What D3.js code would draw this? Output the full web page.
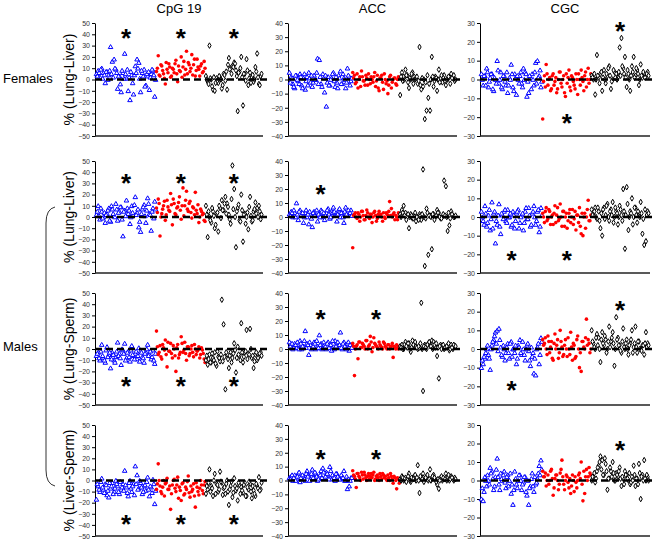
<!DOCTYPE html>
<html><head><meta charset="utf-8">
<script src="https://cdn.jsdelivr.net/npm/d3@7"></script>
<style>
html,body{margin:0;padding:0;background:#fff;}
svg{display:block;font-family:"Liberation Sans",Arial,sans-serif;}
</style></head>
<body><svg id="chart" width="661" height="542"></svg>
<script>
// ---------- labels ----------
const colTitles = ["CpG 19", "ACC", "CGC"];
const rowGroupLabels = ["Females", "Males"];
const rowAxisLabels = ["% (Lung-Liver)", "% (Lung-Liver)", "% (Lung-Sperm)", "% (Liver-Sperm)"];
const colDomains = [[-50, 50], [-40, 40], [-30, 30]];
const colTicks = [
  [-50, -40, -30, -20, -10, 0, 10, 20, 30, 40, 50],
  [-40, -30, -20, -10, 0, 10, 20, 30, 40],
  [-30, -20, -10, 0, 10, 20, 30]
];

// ---------- Row 1: Females, Lung-Liver ----------
const R1C1_blue = [5, 8, 2, 10, 6, -3, 7, 4, 29, 16, 18, 9, -8, 3, -11, 6, 23, 1, -10, -18, 4, -13, 12, 18, 15, -11, 6, 9, -5, 3, -9, 5, 8, -15];
const R1C1_blue2 = [3, 6, 9, 1, 4, 7, 0, 8, 5, 2, 10, 6, 3, -4, 8, 1, 5, 9, 2, 7, -3, 4, 6, 10, 1, 8, 3, -6, 5, 7, 2, 9, 4, 0];
const R1C1_red = [7, 21, 3, 12, 5, -4, 9, 14, 2, 10, 6, 17, -2, 8, 20, 11, 4, 25, 15, 7, 22, 13, 3, 18, 9, 12, 6, 16];
const R1C1_red2 = [10, 4, 13, 8, 1, 15, 6, 11, 3, 9, 14, 5, 12, 7, 2, 16, 9, 5, 13, 10, 4, 18, 8, 11, 3, 14, 7, 10];
const R1C1_black = [3, -2, 30, 0, -9, -10, 1, -3, 2, -8, 5, -1, -9, 19, 10, 12, 15, 8, -28, 7, 20, -23, 5, 18, -5, 6, 2, -2, 11, 23, -4, 3];
const R1C1_black2 = [0, -4, 1, -6, 2, -3, -1, 3, 0, -5, 4, 7, 13, 9, 5, 11, 14, 3, 6, 10, 2, 5, -1, 8, 1, -3, 4, 0, 7, 2, -5, 5];
const R1C2_blue = [5, 2, -3, -6, 3, -1, 4, -4, 1, -7, 2, 5, -2, -5, 3, 0, 15, 14, -3, 4, -9, -19, 2, -4, 1, 5, -5, -2, 3, 6, -3, 1, -6, 8, 2, -1];
const R1C2_blue2 = [-2, 1, -5, 3, 0, -3, 2, -6, 4, -1, -4, 1, 3, -2, 0, 5, -3, 2, -5, 1, 3, -2, -4, 0, 4, -1, 2, -6, 1, -3, 4, 0, -2, 3, -4, 1];
const R1C2_red = [5, 3, -2, -6, 2, 6, -1, -4, 1, 4, -3, 0, 2, -5, 3, -8, 1, -2, 4, -3, -10, 2, -6, 0, 1, -4, 2];
const R1C2_red2 = [1, -3, 4, 0, -5, 2, -1, 3, -4, 0, 2, -2, 5, -1, -6, 1, 3, -7, 0, -1, -4, 3, -2, 1, -3, 0, 1];
const R1C2_black = [-11, 5, 2, 7, 3, -6, 0, 5, 2, 1, -3, 23, -7, -5, -28, -22, -13, -22, 16, -5, 2, -8, 7, 1, -2, 3, -4, 0, 2, 4, 1, -1];
const R1C2_black2 = [2, -1, 0, 3, -2, 1, 4, -3, 0, 2, -1, -4, 1, 0, -2, 3, -3, 0, 2, -1, 1, 0, -2, 3, 1, -1, 0, 2, -3, 1, 3, 0];
const R1C3_blue = [3, -3, 2, 6, -4, 1, 3, -6, 0, 10, -2, 4, -5, 2, -3, -7, 1, 8, -4, 3, -8, 0, 2, -2, 6, 4, -9, -7, 1, 3, -3, 9, 10, 2, -4];
const R1C3_blue2 = [0, 2, -3, 4, -1, 3, -5, 1, -2, 5, 0, -4, 2, -1, 4, -3, 0, 3, -6, 1, 2, -2, 4, -4, 0, 3, -1, 2, -5, 0, 4, -2, 1, 5, -1];
const R1C3_red = [-21, 2, 8, -3, 1, -5, 3, -1, -7, 0, 4, -4, 2, -9, -2, 5, -6, 1, -3, 3, -8, 0, 5, -1, 2, -4, 6, 0];
const R1C3_red2 = [-1, -4, 3, 0, -6, 2, -3, 1, -5, 4, -2, 0, -7, 3, 1, -4, 2, -1, -5, 0, 3, -3, 1, -6, 4, 0, -2, 3];
const R1C3_black = [2, 0, -8, 13, 1, 3, -6, 5, -2, 2, 7, -5, 0, 4, 3, 1, 17, 22, 6, 12, -4, 3, -6, 7, 12, 2, 5, -3, 8, 1, 3, 2, 4];
const R1C3_black2 = [1, 3, 0, 2, -2, 4, 1, 0, 3, 6, 2, -1, 5, 1, 0, 4, 2, 7, 3, 1, 5, 0, 2, 4, 1, 6, 3, 0, 2, 4, 1, 3, 2];

// ---------- Row 2: Males, Lung-Liver ----------
const R2C1_blue = [2, 10, -2, 5, 0, -5, 3, 8, -4, 7, 1, 12, -3, 5, 9, -17, 6, 15, 3, -6, 10, 2, 18, 4, -9, -13, 7, 11, -5, 17, 3, -12, 8, 14];
const R2C1_blue2 = [5, 1, 8, -1, 4, 2, 6, -3, 10, 3, 0, 7, 4, 9, -2, 5, 1, 8, 6, 0, 4, 11, 2, 7, -4, 3, 9, 1, 6, 12, 2, 5, -1, 7];
const R2C1_red = [8, 16, -17, 3, 10, -3, 15, 6, 21, -7, 12, 2, 9, 18, -2, 26, 10, 23, 5, 14, -1, 8, 22, 3, -5, 7, 2, -3];
const R2C1_red2 = [4, 12, 0, 7, 14, 2, 9, 5, 11, 16, 3, 8, 13, 6, 10, 1, 15, 7, 12, 4, 9, 2, 6, 11, 0, 5, 3, -4];
const R2C1_black = [10, -18, 0, -5, 5, -10, 3, -13, 8, 15, 6, 18, 12, 2, -6, 46, 25, -27, 8, -3, 20, -22, 3, 0, -11, 18, -4, 5, 13, 8, 10, -2];
const R2C1_black2 = [2, 5, -3, 8, 1, -7, 4, 10, -1, 6, 12, 3, 9, -2, 16, 7, 0, 5, 11, -4, 6, 2, -6, 4, 9, 1, -3, 7, 3, 0, 5, 2];
const R2C2_blue = [2, 4, 0, 3, 10, -2, 5, 1, -4, 3, 0, -5, 2, -7, 4, 1, -3, 2, 5, 0, -2, 3, 6, -1, 4, 7, 2, -3, 5, 0, 3, -4, 7, 1, 2, 5];
const R2C2_blue2 = [1, 3, 5, 0, 2, 4, 1, 3, 0, 5, 2, 4, -1, 3, 1, 5, 2, 0, 4, 3, 1, 5, 2, 0, 3, 4, 1, 2, 6, 3, 0, 4, 2, 5, 3, 1];
const R2C2_red = [-22, 2, 0, 3, -3, 4, 1, -2, 5, 0, 2, -4, 3, 1, -1, 4, 2, -3, 0, 3, 1, 11, 6, 2, -2, 0, 3];
const R2C2_red2 = [1, 3, -1, 2, 0, 4, -2, 1, 3, -1, 2, 0, 4, -3, 2, 1, 0, 3, -1, 2, 4, 1, 0, 3, 1, -2, 2];
const R2C2_black = [2, 5, 8, 3, 0, -8, 2, -1, 1, -3, 0, 2, -2, 34, -35, 6, -27, 1, -23, 2, 0, 5, 3, -1, 0, 26, 22, -10, -6, 4, 1, 0];
const R2C2_black2 = [0, 3, 1, -2, 2, 0, 1, -1, 3, 0, -2, 1, 2, 0, -1, 3, 1, 0, 2, -2, 1, 3, 0, -1, 2, 1, 0, 3, -1, 2, 0, 1];
const R2C3_blue = [3, -2, 6, -5, 1, -7, 8, 2, -14, -4, 7, -9, 1, 3, -2, 4, 0, -5, 3, -6, 2, 4, -3, 1, -7, 3, -1, 5, -5, 2, 6, -4, 3, -8, 5];
const R2C3_blue2 = [0, -4, 2, -3, 4, -1, -6, 3, -2, 1, -5, 2, -1, 4, -3, 0, 2, -4, 1, -2, 3, -6, 0, 2, -3, 5, -1, 1, -4, 3, 0, -2, 4, -5, 1];
const R2C3_red = [2, -3, 5, -1, 3, 0, -4, 6, 1, -2, 7, -5, 3, 0, -6, 2, -3, 4, -1, -7, 1, 5, -9, -10, 2, 0, 9, -2];
const R2C3_red2 = [0, 3, -2, 4, -4, 1, 2, -3, 5, -1, 0, 3, -5, 2, -2, 4, 0, -4, 3, 1, -3, -5, 2, 0, -6, 4, -2, 1];
const R2C3_black = [4, 2, 5, -1, 3, -6, -10, 5, 1, 7, -2, 4, 8, 0, 3, -4, 6, 1, 15, -17, 16, -7, 3, 10, 0, 5, -3, 2, 8, -9, -15, -13, 3];
const R2C3_black2 = [1, 3, 0, 5, -2, 2, 4, -1, 6, 0, 3, 1, -3, 5, 2, 0, 4, -2, 3, 1, 7, 0, 2, -4, 5, 1, 3, 0, 2, -1, 4, 1, 2];

// ---------- Row 3: Males, Lung-Sperm ----------
const R3C1_blue = [-6, -3, -10, 4, -8, -12, 2, -5, -17, -3, -10, -7, 6, -4, -14, -1, 5, -8, -2, -11, 3, -6, -4, -9, 1, -2, -7, -12, -3, 4, -5, -9, -1, -13];
const R3C1_blue2 = [-4, -8, -2, -6, -10, -1, -7, -3, -9, -5, -12, -2, -6, -8, 0, -4, -10, -3, -7, -1, -5, -9, -2, -6, -11, -3, -8, -4, 0, -6, -2, -7, -10, -4];
const R3C1_red = [16, -5, 3, -9, 1, 8, -16, -2, 5, -8, 0, -20, 4, -5, 11, -3, 6, -10, 2, -4, 3, -7, 0, -2, 2, -5, -1, -9];
const R3C1_red2 = [2, -3, -7, 4, -1, -5, 6, -2, -4, 3, -6, 1, -8, -3, 5, -1, -4, 2, -6, 0, -3, 4, -5, -1, -8, 1, -4, -12];
const R3C1_black = [-10, -14, -5, -12, -8, -3, -15, -7, -11, 44, 22, -36, -5, -17, -3, -8, 5, -21, 2, -6, 23, -12, -3, 17, -4, 18, -8, -17, -5, -10, -7, -3];
const R3C1_black2 = [-6, -9, -12, -4, -10, -13, -2, -8, -5, -11, -7, -3, -9, -6, -12, -4, -1, -8, -5, -10, -3, -7, -2, -9, -5, 0, -6, -11, -3, -8, -4, -6];
const R3C2_blue = [5, 2, 0, 4, 1, 3, 6, 0, 2, 13, 4, -4, 3, 1, 5, 0, 2, 10, 4, 1, 3, 0, 5, 2, -1, 4, 6, 1, 3, 12, 0, 5, 2, 4, -1, 3];
const R3C2_blue2 = [2, 4, 1, 3, 5, 0, 4, 2, 6, 1, 3, 5, 0, 2, 4, 6, 1, 3, 0, 5, 2, 4, 1, 3, 6, 0, 2, 5, 3, 1, 4, 2, 0, 5, 3, 1];
const R3C2_red = [4, -19, 2, -7, 5, 1, 3, 0, 6, 2, 9, -2, 8, 3, 1, 5, 2, 0, 4, 1, 3, 0, 2, -6, 1, 3, 0];
const R3C2_red2 = [2, 0, 3, 5, 1, 4, 2, 6, 0, 3, 5, 1, 4, 2, 0, 3, 1, 5, 2, 0, 3, 1, 4, 2, 0, 1, 2];
const R3C2_black = [2, 3, 0, 5, 1, 4, -2, 6, 3, 2, 0, 1, 33, -30, 3, 0, 4, 2, 6, 5, 1, -5, -21, 3, 2, 0, 1, 2, -1, 3, 0, 2];
const R3C2_black2 = [1, 0, 3, 2, 4, 0, 1, 3, 5, 1, 2, 4, 0, 2, 1, 3, 5, 2, 0, 3, 4, 1, 2, 0, 3, 1, 2, 4, 0, 1, 3, 2];
const R3C3_blue = [-10, -8, -5, 0, -3, -11, 2, 5, 9, 10, 11, 1, -4, 0, -2, 3, -5, 4, 0, -2, -8, 2, 5, -3, 0, -6, 2, -1, -9, -4, -13, -14, 1, -8, 6];
const R3C3_blue2 = [-6, -4, -2, 2, -5, 0, 4, 7, 3, -1, 5, -3, 2, -6, 1, -2, 3, -4, 0, 2, -5, 1, -2, 4, -3, 0, 3, -6, 1, -2, -5, 0, 3, -3, 4];
const R3C3_red = [5, 3, 0, 7, -2, 4, -6, 8, 2, -5, 10, 1, -3, 5, -4, 0, 9, -6, 2, -4, 7, -10, -12, 4, 0, 16, 5, -2];
const R3C3_red2 = [2, 6, -3, 4, 1, -5, 3, 0, 5, -2, 4, -4, 2, 0, 6, -3, 1, 3, -5, 5, 0, -2, 4, 1, 6, 2, 3, 0];
const R3C3_black = [10, 3, 0, 8, 6, -7, 9, 2, 5, 0, 12, 4, 9, -9, 17, 6, 2, -2, 11, 0, 5, -3, 3, 10, 1, 12, -2, 4, 0, 2, -3, 9, 3];
const R3C3_black2 = [4, 1, 6, 2, 0, 5, 3, 7, -2, 4, 1, 6, 3, 0, 5, 2, -1, 4, 1, 3, 0, 2, 5, -2, 3, 1, 4, 0, -1, 2, 3, 1, 2];

// ---------- Row 4: Males, Liver-Sperm ----------
const R4C1_blue = [-17, -5, -10, 2, -8, -3, -13, -15, -7, -2, -10, 0, -5, -12, -8, -3, 9, -6, -14, 0, -10, -3, 13, 5, -7, -2, -12, -5, -9, 3, -14, -6, 1, -21];
const R4C1_blue2 = [-3, -8, -1, -6, -11, -4, -9, -2, -5, -12, -7, -3, -10, -1, -6, -9, -4, -11, -2, -7, -5, -13, -3, -8, 0, -6, -10, -4, -1, -8, -5, -11, -3, -9];
const R4C1_red = [-8, 15, -5, -12, 0, -3, 2, -8, -26, -4, 1, -10, 3, -6, -18, -2, -12, -8, 4, -15, -10, -3, -24, -6, -13, 0, -9, -4];
const R4C1_red2 = [-3, 0, -10, -6, -14, -2, -8, -5, -12, 0, -7, -4, -16, -9, -3, -13, -6, -1, -11, -5, -8, -14, -2, -10, -7, -4, -12, -1];
const R4C1_black = [-12, -8, 10, -5, -14, 6, -3, -10, 8, -2, -7, -12, 0, -22, -5, -15, 2, -9, -18, -4, -6, -11, -2, -14, -8, -3, -16, -9, -14, -5, 3, -8];
const R4C1_black2 = [-5, -2, -10, -7, 0, -12, -4, -8, -1, -13, -6, -3, -10, -8, -1, -11, -5, -7, -2, -12, -9, -4, -14, -6, -1, -10, -5, -12, -3, -7, -9, -2];
const R4C2_blue = [2, 3, 0, 4, 1, 5, -1, 2, 3, 0, 7, 4, 1, 8, 2, 5, 0, 3, 7, 9, 2, 6, 4, 10, 1, 3, 0, 5, 2, 1, 3, 7, 0, -6, -4, 2];
const R4C2_blue2 = [1, 4, 2, 0, 3, 6, 2, 4, 1, 5, 3, 0, 5, 2, 6, 3, 1, 4, 2, 6, 3, 5, 1, 7, 4, 2, 5, 3, 1, 4, 2, 0, 3, 1, 0, 2];
const R4C2_red = [7, 3, -5, 5, 2, 6, 1, 4, 0, 5, 3, 2, 6, 1, 4, 0, 3, 5, 2, 1, 4, 0, 3, -2, 2, -6, 1];
const R4C2_red2 = [4, 1, 5, 3, 0, 4, 6, 2, 3, 1, 5, 4, 0, 3, 2, 5, 1, 4, 3, 0, 2, 5, 1, 3, 0, 2, -2];
const R4C2_black = [1, 3, 0, 2, 1, 5, -1, 2, 3, 0, 11, -9, 2, 5, 1, 3, 0, 8, 2, 4, 1, -3, -6, 2, 0, 1, 5, 2, 0, 3, 1, 2];
const R4C2_black2 = [0, 2, 1, -1, 3, 0, 2, 1, 4, 2, 0, 3, 1, -1, 2, 4, 1, 0, 3, 2, -1, 1, 0, 3, 2, 1, 0, 4, 1, 2, 0, 1];
const R4C3_blue = [-10, -11, 2, -3, 0, 7, 5, -5, 2, 12, -2, 4, 0, 5, -4, 3, 0, -7, -13, 5, -2, 0, 3, -5, -1, 2, -8, -13, -3, 4, -6, -2, 1, 8, 11];
const R4C3_blue2 = [-4, -6, 0, 3, -2, 4, 1, -3, 6, 2, -5, 1, 3, -1, 2, -3, 4, -2, -5, 1, -4, 3, 0, -2, 2, -6, 0, -4, 1, -3, 2, -1, 4, 3, 6];
const R4C3_red = [5, 2, -3, 3, 0, 6, -8, 1, 3, -5, 4, 11, -2, 0, 2, -4, -7, 3, -6, -1, 0, 4, 10, -11, -7, 6, 2, 4];
const R4C3_red2 = [2, 4, 0, -2, 5, 1, -4, 3, 0, -2, 6, 2, -5, 3, -1, 1, -3, 0, 2, -4, 3, 1, -2, 5, 2, 0, 7, 3];
const R4C3_black = [0, 2, -1, 5, 8, 13, 11, 3, 9, -5, 1, 5, 10, 0, 4, 2, 7, -3, 1, 5, 3, 0, -2, 2, 8, -3, 1, 9, -10, 3, 11, 0, 2];
const R4C3_black2 = [2, 4, 1, 7, 10, 6, 3, 12, 5, 1, 7, 2, 4, 0, 3, 5, 1, 2, -2, 3, 1, 4, -1, 0, 3, 1, -2, 4, 2, 0, 1, 3, 0];

// significance asterisks: [row, col, group(0 blue,1 red,2 black), value]
const stars = [
  [0,0,0,42],[0,0,1,42],[0,0,2,42],[0,2,2,29],[0,2,1,-20],
  [1,0,0,36],[1,0,1,36],[1,0,2,36],[1,1,0,21],[1,2,0,-20],[1,2,1,-20],
  [2,0,0,-28],[2,0,1,-28],[2,0,2,-28],[2,1,0,26],[2,1,1,26],[2,2,2,24],[2,2,0,-19],
  [3,0,0,-34],[3,0,1,-34],[3,0,2,-34],[3,1,0,20],[3,1,1,20],[3,2,2,20]
];

const panels = [
  [[[R1C1_blue,R1C1_blue2],[R1C1_red,R1C1_red2],[R1C1_black,R1C1_black2]],
   [[R1C2_blue,R1C2_blue2],[R1C2_red,R1C2_red2],[R1C2_black,R1C2_black2]],
   [[R1C3_blue,R1C3_blue2],[R1C3_red,R1C3_red2],[R1C3_black,R1C3_black2]]],
  [[[R2C1_blue,R2C1_blue2],[R2C1_red,R2C1_red2],[R2C1_black,R2C1_black2]],
   [[R2C2_blue,R2C2_blue2],[R2C2_red,R2C2_red2],[R2C2_black,R2C2_black2]],
   [[R2C3_blue,R2C3_blue2],[R2C3_red,R2C3_red2],[R2C3_black,R2C3_black2]]],
  [[[R3C1_blue,R3C1_blue2],[R3C1_red,R3C1_red2],[R3C1_black,R3C1_black2]],
   [[R3C2_blue,R3C2_blue2],[R3C2_red,R3C2_red2],[R3C2_black,R3C2_black2]],
   [[R3C3_blue,R3C3_blue2],[R3C3_red,R3C3_red2],[R3C3_black,R3C3_black2]]],
  [[[R4C1_blue,R4C1_blue2],[R4C1_red,R4C1_red2],[R4C1_black,R4C1_black2]],
   [[R4C2_blue,R4C2_blue2],[R4C2_red,R4C2_red2],[R4C2_black,R4C2_black2]],
   [[R4C3_blue,R4C3_blue2],[R4C3_red,R4C3_red2],[R4C3_black,R4C3_black2]]]
];

// ---------- layout ----------
const colX = [[95, 263], [288, 457], [480, 650]];
const rowY = [[23, 136], [161, 273], [293, 405], [425, 536]];

const svg = d3.select("#chart");
const FONT = "'Liberation Sans', Arial, sans-serif";

colTitles.forEach((t, c) => {
  svg.append("text").attr("x", (colX[c][0] + colX[c][1]) / 2).attr("y", 13)
    .attr("text-anchor", "middle").attr("font-size", 13).attr("fill", "#000").text(t);
});
svg.append("text").attr("x", 3).attr("y", 83).attr("font-size", 13).text(rowGroupLabels[0]);
svg.append("text").attr("x", 3).attr("y", 351).attr("font-size", 13).text(rowGroupLabels[1]);
svg.append("path").attr("d", "M55,207 Q46,209 46,223 L46,470 Q46,484 55,486")
  .attr("fill", "none").attr("stroke", "#333").attr("stroke-width", 1);

const triangle = d3.symbol().type(d3.symbolTriangle).size(9);
const diamond = d3.symbol().type(d3.symbolDiamond).size(9);
const offsets = [0.25, 0.75];

panels.forEach((row, r) => {
  const [y0, y1] = rowY[r];
  svg.append("text")
    .attr("transform", `translate(74,${(y0 + y1) / 2}) rotate(-90)`)
    .attr("text-anchor", "middle").attr("font-size", 14).text(rowAxisLabels[r]);

  row.forEach((groups, c) => {
    const [x0, x1] = colX[c];
    const y = d3.scaleLinear().domain(colDomains[c]).range([y1, y0]);
    const lens = groups.map(g => g[0].length);
    const N = d3.sum(lens);
    const x = d3.scaleLinear().domain([0, N]).range([x0 + 1, x1 - 1]);
    const starts = [0, lens[0], lens[0] + lens[1]];
    const g = svg.append("g");

    const ax = g.append("g").attr("transform", `translate(${x0},0)`)
      .call(d3.axisLeft(y).tickValues(colTicks[c]).tickSize(3).tickSizeOuter(0).tickPadding(2));
    ax.select(".domain").attr("stroke", "#000");
    ax.selectAll(".tick line").attr("stroke", "#000");
    ax.selectAll(".tick text").attr("font-size", 7).attr("fill", "#333").attr("font-family", FONT);
    g.append("line").attr("x1", x0).attr("x2", x1).attr("y1", y1).attr("y2", y1)
      .attr("stroke", "#222").attr("stroke-width", 1.5);

    groups.forEach((sets, gi) => {
      sets.forEach((vals, si) => {
        const px = i => x(starts[gi] + i + offsets[si]);
        const layer = g.append("g");
        if (gi === 0) {
          layer.selectAll("path").data(vals).join("path")
            .attr("d", triangle)
            .attr("transform", (d, i) => `translate(${px(i)},${y(d) + 0.5})`)
            .attr("fill", "#fff").attr("stroke", "#0000ff").attr("stroke-width", 1);
        } else if (gi === 1) {
          layer.selectAll("circle").data(vals).join("circle")
            .attr("cx", (d, i) => px(i)).attr("cy", d => y(d))
            .attr("r", 1.8).attr("fill", "#ff0000");
        } else {
          layer.selectAll("path").data(vals).join("path")
            .attr("d", diamond)
            .attr("transform", (d, i) => `translate(${px(i)},${y(d)})`)
            .attr("fill", "#fff").attr("stroke", "#000").attr("stroke-width", 1);
        }
      });
    });

    g.append("line").attr("x1", x0).attr("x2", x1 + 4).attr("y1", y(0)).attr("y2", y(0))
      .attr("stroke", "#000").attr("stroke-width", 2.5).attr("stroke-dasharray", "7,4");

    stars.filter(s => s[0] === r && s[1] === c).forEach(s => {
      const gi = s[2];
      const cx = x(starts[gi] + lens[gi] / 2);
      svg.append("text").attr("x", cx).attr("y", y(s[3]) + 15)
        .attr("text-anchor", "middle").attr("font-size", 26).attr("font-weight", "bold")
        .attr("fill", "#000").text("*");
    });
  });
});
</script>
</body></html>
